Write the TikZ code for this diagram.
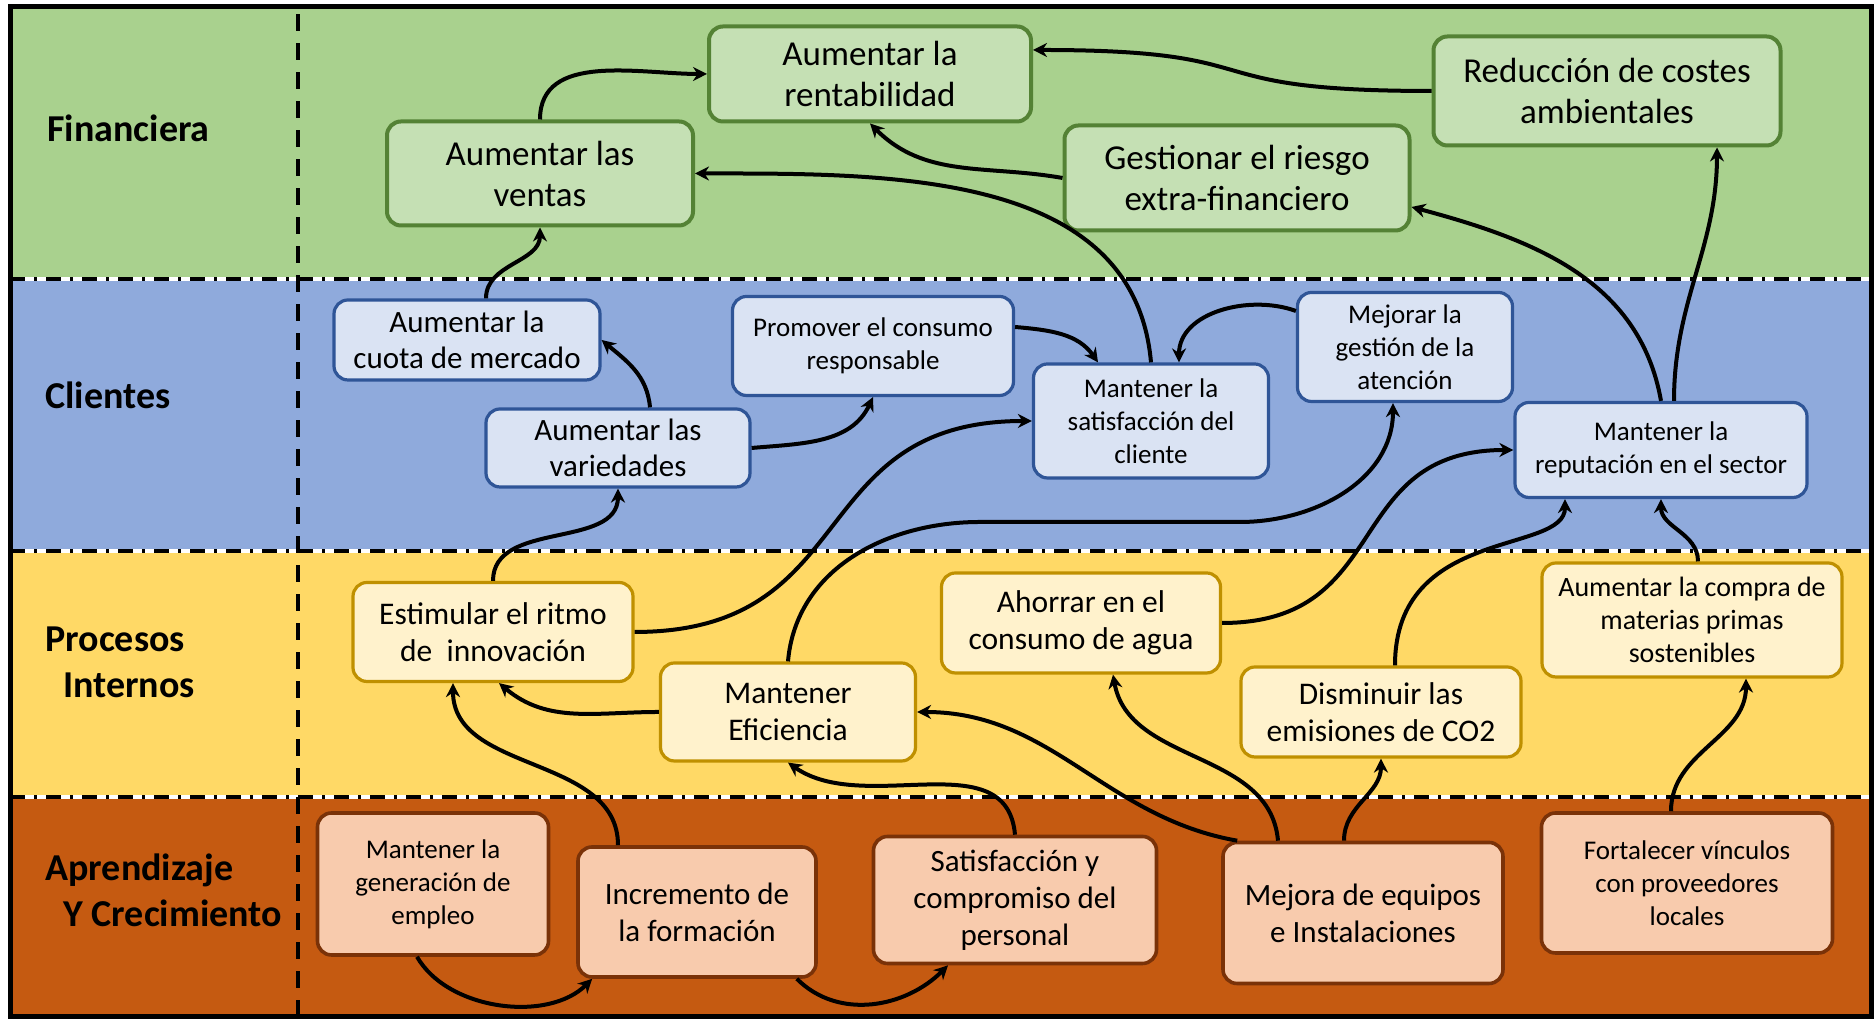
\documentclass[tikz,border=0pt]{standalone}
\usepackage{fontspec}
\setmainfont{Carlito}
\usepackage{tikz}
\usetikzlibrary{arrows.meta,calc}
\definecolor{bsgreen}{HTML}{A9D18E}
\definecolor{bsgreenbox}{HTML}{C5E0B4}
\definecolor{bsgreenline}{HTML}{548235}
\definecolor{bsblue}{HTML}{8FAADC}
\definecolor{bsbluebox}{HTML}{DAE3F3}
\definecolor{bsblueline}{HTML}{2F5597}
\definecolor{bsyellow}{HTML}{FFD966}
\definecolor{bsyellowbox}{HTML}{FFF2CC}
\definecolor{bsyellowline}{HTML}{BF9000}
\definecolor{bsorange}{HTML}{C55A11}
\definecolor{bsorangebox}{HTML}{F8CBAD}
\definecolor{bsorangeline}{HTML}{7A3208}

\begin{document}
\begin{tikzpicture}[x=0.5pt, y=0.5pt,
  obj/.style={rounded corners=7pt, align=center, inner sep=2pt},
  fin/.style={obj, draw=bsgreenline, fill=bsgreenbox, line width=2pt, font=\fontsize{17.5}{20.5}\selectfont},
  cli/.style={obj, draw=bsblueline, fill=bsbluebox, line width=1.6pt, font=\fontsize{13.5}{16.5}\selectfont},
  pro/.style={obj, draw=bsyellowline, fill=bsyellowbox, line width=1.6pt, font=\fontsize{15.75}{18.5}\selectfont},
  apr/.style={obj, draw=bsorangeline, fill=bsorangebox, line width=1.8pt, font=\fontsize{15.5}{18.5}\selectfont},
  bigtext/.style={font=\fontsize{15.5}{18}\selectfont},
  midtext/.style={font=\fontsize{14}{16.5}\selectfont},
  smalltext/.style={font=\fontsize{13.5}{16.5}\selectfont},
  persp/.style={anchor=west, align=left, inner sep=0pt, font=\fontsize{19}{23}\selectfont\bfseries},
  sep/.style={line width=2pt, dash pattern=on 7.5pt off 4.5pt on 1.5pt off 4.5pt},
  link/.style={line width=2pt, -{Stealth[length=7pt,width=7pt]}}
]
\useasboundingbox (0,0) rectangle (1876,1020);

% Bands
\fill[bsgreen]  (10,741) rectangle (1871,1013);
\fill[bsblue]   (10,469) rectangle (1871,741);
\fill[bsyellow] (10,223) rectangle (1871,469);
\fill[bsorange] (10,3)   rectangle (1871,223);
\foreach \y in {741,469,223} {
  \draw[white, line width=2pt] (10,\y) -- (1871,\y);
  \draw[sep] (10,\y) -- (1871,\y);
}
\draw[line width=2pt, dash pattern=on 8.5pt off 6pt] (298,3) -- (298,1013);
\draw[line width=2.5pt] (10,3) rectangle (1871,1013);

% Perspectives
\node[persp] (lfin) at (47,892) {Financiera};
\node[persp] (lcli) at (45,625) {Clientes};
\node[persp] (lpro) at (45,357.5) {Procesos\\\hspace*{9pt}Internos};
\node[persp] (lapr) at (45,130) {Aprendizaje\\\hspace*{9pt}Y Crecimiento};

% Financiera
\node[fin, minimum width=161pt, minimum height=47.5pt] (rent) at (870,946) {Aumentar la\\rentabilidad};
\node[fin, minimum width=153pt, minimum height=52pt] (ventas) at (540,846.5) {Aumentar las\\ventas};
\node[fin, minimum width=172.5pt, minimum height=52.5pt] (riesgo) at (1237,842) {Gestionar el riesgo\\extra-financiero};
\node[fin, minimum width=173.5pt, minimum height=54.5pt] (costes) at (1607,929) {Reducción de costes\\ambientales};

% Clientes
\node[cli, bigtext, minimum width=133pt, minimum height=40pt] (cuota) at (467,680) {Aumentar la\\cuota de mercado};
\node[cli, minimum width=140.5pt, minimum height=49.5pt] (consumo) at (873,674) {Promover el consumo\\responsable};
\node[cli, bigtext, minimum width=132pt, minimum height=39pt] (varied) at (618,572) {Aumentar las\\variedades};
\node[cli, minimum width=117.5pt, minimum height=57pt] (satcli) at (1151,599) {Mantener la\\satisfacción del\\cliente};
\node[cli, minimum width=107.5pt, minimum height=54.5pt] (atencion) at (1405,673) {Mejorar la\\gestión de la\\atención};
\node[cli, minimum width=146pt, minimum height=47.5pt] (reput) at (1661,570) {Mantener la\\reputación en el sector};

% Procesos internos
\node[pro, minimum width=140pt, minimum height=49.5pt] (innov) at (493,388) {Estimular el ritmo\\de~~innovación};
\node[pro, minimum width=127.5pt, minimum height=49pt] (efic) at (788,308) {Mantener\\Eficiencia};
\node[pro, minimum width=139.5pt, minimum height=50pt] (agua) at (1081,397) {Ahorrar en el\\consumo de agua};
\node[pro, minimum width=140pt, minimum height=45pt] (co2) at (1381,308) {Disminuir las\\emisiones de CO2};
\node[pro, midtext, minimum width=150pt, minimum height=57pt] (compra) at (1692,400) {Aumentar la compra de\\materias primas\\sostenibles};

% Aprendizaje y crecimiento
\node[apr, smalltext, minimum width=115.5pt, minimum height=71pt] (empleo) at (433,136) {Mantener la\\generación de\\empleo};
\node[apr, minimum width=119pt, minimum height=65pt] (formac) at (697,108) {Incremento de\\la formación};
\node[apr, minimum width=141.5pt, minimum height=63.5pt] (personal) at (1015,120) {Satisfacción y\\compromiso del\\personal};
\node[apr, minimum width=140pt, minimum height=70.5pt] (equipos) at (1363,107) {Mejora de equipos\\e Instalaciones};
\node[apr, smalltext, minimum width=145.5pt, minimum height=70pt] (vinculos) at (1687,137) {Fortalecer vínculos\\con proveedores\\locales};

% Links
\draw[link] (ventas.north) to[out=90,in=180] (rent.west);
\draw[link] (costes.west) to[out=180,in=0,looseness=1.6] ($(rent.east)+(0,24)$);
\draw[link] (riesgo.west) to[out=170,in=-45] (rent.south);
\draw[link] (satcli.north) to[out=95,in=0] (ventas.east);
\draw[link] (reput.north) to[out=100,in=-15] ($(riesgo.east)+(0,-29)$);
\draw[link] ($(reput.north)+(13,0)$) to[out=90,in=-90] ($(costes.south)+(110,0)$);
\draw[link] ($(cuota.north)+(19,0)$) to[out=90,in=-90] (ventas.south);
\draw[link] ($(varied.north)+(32,0)$) to[out=95,in=-40] (cuota.east);
\draw[link] (varied.east) to[out=5,in=-115] (consumo.south);
\draw[link] ($(consumo.east)+(0,19)$) to[out=-5,in=125] ($(satcli.north)+(-53,0)$);
\draw[link] ($(atencion.west)+(0,36)$) to[out=160,in=90] ($(satcli.north)+(28,0)$);
\draw[link] (innov.north) to[out=90,in=-90] (varied.south);
\draw[link] (innov.east) to[out=0,in=180,looseness=1.3] (satcli.west);
\draw[link] (efic.north) to[out=85,in=180] (980,498) -- (1240,498) to[out=0,in=-90] ($(atencion.south)+(-12,0)$);
\draw[link] (agua.east) to[out=0,in=180,looseness=1.3] (reput.west);
\draw[link] ($(co2.north)+(14,0)$) to[out=90,in=-90,out looseness=1.5,in looseness=0.6] ($(reput.south)+(-96,0)$);
\draw[link] ($(compra.north)+(6,0)$) to[out=90,in=-90] (reput.south);
\draw[link] (efic.west) to[out=180,in=-40] ($(innov.south)+(6,0)$);
\draw[link] ($(formac.north)+(-79,0)$) to[out=90,in=-90] ($(innov.south)+(-40,0)$);
\draw[link] (personal.north) to[out=95,in=-35] (efic.south);
\draw[link] ($(equipos.north west)+(16,0)$) to[out=170,in=0] (efic.east);
\draw[link] ($(equipos.north)+(-85,0)$) to[out=95,in=-80] ($(agua.south)+(32,0)$);
\draw[link] ($(equipos.north)+(-19,0)$) to[out=90,in=-90] (co2.south);
\draw[link] ($(vinculos.north)+(-16,0)$) to[out=90,in=-90] ($(compra.south)+(54,0)$);
\draw[link] ($(empleo.south)+(-16,0)$) to[out=-60,in=-135,looseness=0.9] ($(formac.south west)+(16,0)$);
\draw[link] ($(formac.south east)+(-21,0)$) to[out=-45,in=-135] ($(personal.south)+(-67,0)$);
\end{tikzpicture}
\end{document}
